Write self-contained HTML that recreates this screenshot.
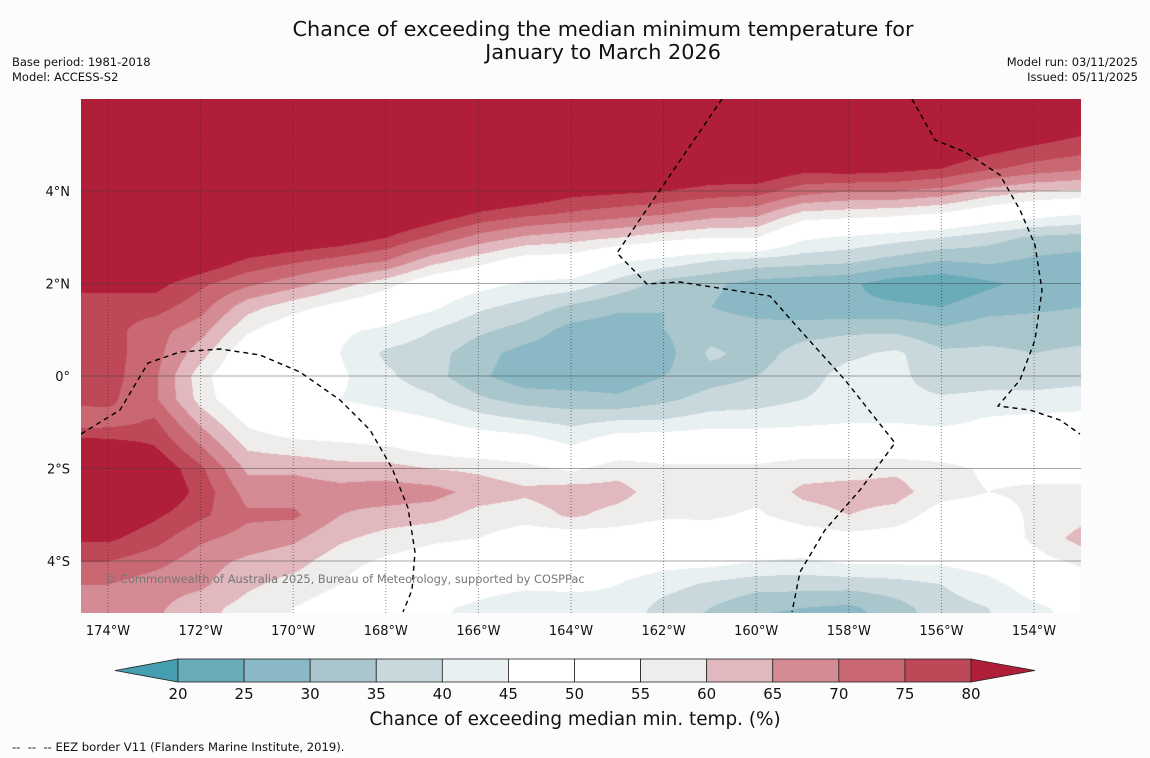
<!DOCTYPE html>
<html><head><meta charset="utf-8">
<style>
html,body{margin:0;padding:0;background:#fcfcfc;}
body{width:1150px;height:758px;position:relative;overflow:hidden;font-family:"Liberation Sans","DejaVu Sans",sans-serif;color:#111;}
.t{position:absolute;white-space:nowrap;}
</style></head>
<body>
<div class="t" style="left:0;width:1206px;top:18px;text-align:center;font-size:20.8px;line-height:23px;font-family:'DejaVu Sans',sans-serif;">Chance of exceeding the median minimum temperature for<br>January to March 2026</div>
<div class="t" style="left:12px;top:55px;font-size:11.5px;line-height:15px;font-family:'DejaVu Sans',sans-serif;">Base period: 1981-2018<br>Model: ACCESS-S2</div>
<div class="t" style="right:12px;top:55px;font-size:11.5px;line-height:15px;text-align:right;font-family:'DejaVu Sans',sans-serif;">Model run: 03/11/2025<br>Issued: 05/11/2025</div>
<canvas id="map" width="1000" height="514" style="position:absolute;left:81px;top:99px;"></canvas>
<svg id="ov" width="1150" height="758" style="position:absolute;left:0;top:0;"></svg>
<div class="t" style="left:105px;top:572px;font-size:11.4px;color:#777;font-family:'DejaVu Sans',sans-serif;">© Commonwealth of Australia 2025, Bureau of Meteorology, supported by COSPPac</div>
<div class="t" style="left:0;width:1150px;top:709px;text-align:center;font-size:18.4px;font-family:'DejaVu Sans',sans-serif;">Chance of exceeding median min. temp. (%)</div>
<div class="t" style="left:12px;top:740px;font-size:11.6px;font-family:'DejaVu Sans',sans-serif;">--&nbsp; --&nbsp; -- EEZ border V11 (Flanders Marine Institute, 2019).</div>
<script>
const lons = [-175,-174,-173,-172,-171,-170,-169,-168,-167,-166,-165,-164,-163,-162,-161,-160,-159,-158,-157,-156,-155,-154,-153];
const lats = [6,5.5,5,4.5,4,3.5,3,2.5,2,1.5,1,0.5,0,-0.5,-1,-1.5,-2,-2.5,-3,-3.5,-4,-4.5,-5,-5.5];
const colM175 = [90,90,90,90,90,90,90,90,82,77,77,77,77,76,72,85,88,88,85,81,75,70,67,66];
const colM174 = [90,90,90,90,90,90,90,90,82,77,77,77,77,76,73,83,88,88,85,81,75,70,67,66];
const colM173 = [90,90,90,90,90,90,90,90,82,77,72,72,71,71,76,80,85,86,81,77,72,67,66,65];
const colM172 = [90,90,90,90,90,90,90,85,76,72,67,62,57,58,64,70,76,78,76,71,67,66,62,61];
const colM171 = [90,90,90,90,90,90,88,79,71,62,56,50,48,49,54,59,64,68,71,68,64,61,58,57];
const colM170 = [90,90,90,90,90,90,86,76,67,57,50,47,48,48,50,57,64,68,71,66,62,58,55,54];
const colM169 = [90,90,90,90,90,90,84,73,62,53,46,45,46,45,50,56,62,67,65,61,57,55,52,50];
const colM168 = [90,90,90,90,90,88,80,70,57,49,44,39,41,43,48,55,62,68,63,58,54,50,48,47];
const colM167 = [90,90,90,90,90,84,74,62,50,46,40,37,37,41,46,52,60,67,62,56,52,49,46,45];
const colM166 = [90,90,90,90,88,79,68,57,47,41,36,32,31,36,43,50,59,63,58,55,50,47,44,43];
const colM165 = [90,90,90,90,86,76,64,52,44,38,33,28,27,33,41,49,57,61,57,52,48,46,42,41];
const colM164 = [90,90,90,88,82,74,62,52,43,34,28,27,27,32,39,45,54,63,61,51,48,46,43,42];
const colM163 = [90,90,90,88,81,72,60,46,38,31,27,26,27,31,41,50,58,62,58,52,48,45,44,43];
const colM162 = [90,90,90,87,80,70,57,43,33,30,30,28,30,34,41,51,56,57,56,50,47,42,38,36];
const colM161 = [90,90,90,85,78,67,55,40,31,30,33,36,33,37,43,51,56,57,56,51,47,39,35,33];
const colM160 = [90,90,90,86,77,66,55,38,28,28,32,33,35,38,43,51,56,57,54,49,45,37,31,28];
const colM159 = [90,90,88,82,72,58,46,37,27,26,33,37,38,40,44,51,58,61,58,51,44,37,30,27];
const colM158 = [90,90,88,83,70,57,44,36,26,26,34,39,42,42,45,51,58,62,60,53,46,37,29,26];
const colM157 = [90,90,88,82,70,56,42,33,22,26,34,41,42,42,45,50,59,62,58,52,46,38,33,31];
const colM156 = [90,90,86,80,68,54,40,30,21,25,31,36,36,41,44,50,57,57,52,49,46,40,38,37];
const colM155 = [90,88,83,76,63,50,37,31,24,28,33,36,37,42,46,50,54,55,52,51,48,43,40,39];
const colM154 = [90,86,80,73,60,47,34,29,27,29,33,35,37,42,47,50,53,56,56,56,53,48,44,43];
const colM153 = [88,83,78,71,59,45,33,28,28,30,33,36,38,43,47,50,53,56,58,62,56,52,47,45];
const columns = [colM175,colM174,colM173,colM172,colM171,colM170,colM169,colM168,colM167,colM166,colM165,colM164,colM163,colM162,colM161,colM160,colM159,colM158,colM157,colM156,colM155,colM154,colM153];
const levels = [20,25,30,35,40,45,50,55,60,65,70,75,80];
const bandColors = ['#469fb0','#6aabb8','#8ab8c5','#a8c6cb','#c9d8dd','#e9f0f2','#ffffff','#ffffff','#efedeb','#e0b8bd','#d48b94','#c96872','#be4858','#b01e3a'];
const lonTicks = [-174,-172,-170,-168,-166,-164,-162,-160,-158,-156,-154];
const latTicks = [4,2,0,-2,-4];

const PX0=81, PY0=99, PW=1000, PH=514;
function x(lon){return 108+(lon+174)*46.3;}
function y(lat){return 376-lat*46.25;}
function band(v){let i=0;while(i<levels.length&&v>=levels[i])i++;return i;}
function hex(c){return [parseInt(c.slice(1,3),16),parseInt(c.slice(3,5),16),parseInt(c.slice(5,7),16)];}
const rgb=bandColors.map(hex);

const cv=document.getElementById('map');const ctx=cv.getContext('2d');
const img=ctx.createImageData(PW,PH);
const lonStep=lons[1]-lons[0], latStep=lats[0]-lats[1];
for(let py=0;py<PH;py++){
  const lat=(376-(py+PY0))/46.25;
  let fr=(lats[0]-lat)/latStep; fr=Math.max(0,Math.min(lats.length-1.001,fr));
  const r0=Math.floor(fr), tr=fr-r0;
  for(let px=0;px<PW;px++){
    const lon=(px+PX0-108)/46.3-174;
    let fc=(lon-lons[0])/lonStep; fc=Math.max(0,Math.min(lons.length-1.001,fc));
    const c0=Math.floor(fc), tc=fc-c0;
    const a=columns[c0][r0],b=columns[c0+1][r0],c=columns[c0][r0+1],d=columns[c0+1][r0+1];
    const v=(a*(1-tc)+b*tc)*(1-tr)+(c*(1-tc)+d*tc)*tr;
    const col=rgb[band(v)];const k=(py*PW+px)*4;
    img.data[k]=col[0];img.data[k+1]=col[1];img.data[k+2]=col[2];img.data[k+3]=255;
  }
}
ctx.putImageData(img,0,0);

const NS='http://www.w3.org/2000/svg';
const ov=document.getElementById('ov');
function mk(tag,attrs,parent){const e=document.createElementNS(NS,tag);for(const k in attrs)e.setAttribute(k,attrs[k]);(parent||ov).appendChild(e);return e;}
const clip=mk('clipPath',{id:'pc'});mk('rect',{x:PX0,y:PY0,width:PW,height:PH},clip);

lonTicks.forEach(l=>{
  const g=mk('line',{x1:x(l),x2:x(l),y1:PY0,y2:PY0+PH,stroke:'rgba(40,40,40,0.55)','stroke-width':1,'stroke-dasharray':'1,2'});
  
  
  const t=mk('text',{x:x(l),y:635,'text-anchor':'middle','font-size':13,'font-family':'DejaVu Sans, sans-serif',fill:'#111'});
  t.textContent=Math.abs(l)+'°W';
  
  
});
latTicks.forEach(l=>{
  const g=mk('line',{x1:PX0,x2:PX0+PW,y1:y(l),y2:y(l),stroke:'rgba(60,60,60,0.45)','stroke-width':1});
  
  
  const t=mk('text',{x:70,y:y(l)+5,'text-anchor':'end','font-size':13,'font-family':'DejaVu Sans, sans-serif',fill:'#111'});
  t.textContent=l===0?'0°':Math.abs(l)+'°'+(l>0?'N':'S');
  
  
});

const eez=['M81,434 L120,410 L148,363 L180,352 L220,349 L260,355 L300,372 L340,400 L370,430 L392,468 L408,508 L415,552 L412,590 L403,612',
'M722,99 L660,190 L617,253 L647,284 L680,282 L770,296 L800,330 L845,380 L895,443 L860,490 L825,530 L800,572 L792,612',
'M912,99 L935,140 L965,152 L1000,175 L1020,210 L1035,245 L1042,290 L1035,340 L1020,380 L998,406 L1030,410 L1060,420 L1080,434'];
eez.forEach(d=>{const p=mk('path',{d:d,fill:'none',stroke:'#000','stroke-width':1.4,'stroke-dasharray':'5,4','clip-path':'url(#pc)'});
  
  });

const cbx0=178, cbx1=971, cby=659, cbh=23;
function cx(v){return cbx0+(v-levels[0])/(levels[levels.length-1]-levels[0])*(cbx1-cbx0);}
const lt=mk('polygon',{points:`115,${cby+cbh/2} ${cbx0},${cby} ${cbx0},${cby+cbh}`,fill:bandColors[0],stroke:'#222','stroke-width':0.8});


for(let i=0;i<levels.length-1;i++){
  const r=mk('rect',{x:cx(levels[i]),y:cby,width:cx(levels[i+1])-cx(levels[i]),height:cbh,fill:bandColors[i+1],stroke:'#222','stroke-width':0.8});
  
  
}
const rt=mk('polygon',{points:`${cbx1},${cby} 1035,${cby+cbh/2} ${cbx1},${cby+cbh}`,fill:bandColors[bandColors.length-1],stroke:'#222','stroke-width':0.8});


levels.forEach(v=>{const t=mk('text',{x:cx(v),y:699,'text-anchor':'middle','font-size':15,'font-family':'DejaVu Sans, sans-serif',fill:'#111'});
  t.textContent=v;
  
  });
</script>
</body></html>
